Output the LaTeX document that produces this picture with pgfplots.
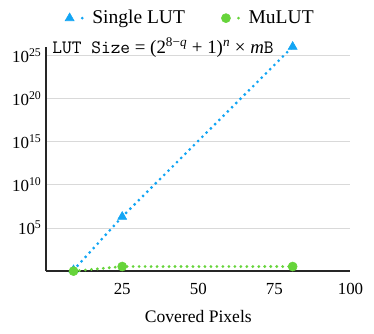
\documentclass[border={6pt 5pt 5pt 4pt}]{standalone}
\usepackage{pgfplots}
\pgfplotsset{compat=1.18}
\usepackage{fontspec}
\setmainfont{Liberation Serif}
\definecolor{lutblue}{RGB}{18,165,244}
\definecolor{mugreen}{RGB}{102,212,58}
\tikzset{dots/.style={line width=2.4pt, line cap=round, dash pattern=on 0pt off 4.6pt}}
\begin{document}
\begin{tikzpicture}
\begin{axis}[
  scale only axis,
  width=234pt, height=172.5pt,
  xmin=0, xmax=100,
  ymode=log, ymin=1, ymax=1e26,
  axis lines=left,
  axis line style={-, line width=1pt, black!85},
  xtick={25,50,75,100},
  ytick={1e5,1e10,1e15,1e20,1e25},
  yticklabels={10\textsuperscript{5},10\textsuperscript{10},10\textsuperscript{15},10\textsuperscript{20},10\textsuperscript{25}},
  minor ytick={},
  major tick length=0pt,
  tick label style={font=\fontsize{13}{14}\selectfont},
  /pgf/number format/assume math mode=true,
  xticklabel style={yshift=-6pt},
  ymajorgrids,
  grid style={gray!30, line width=0.6pt},
  xlabel={Covered Pixels},
  xlabel style={font=\fontsize{13.5}{14}\selectfont, yshift=-5pt},
  clip=false,
  legend columns=2,
  legend style={draw=none, fill=none, at={(0.475,1.1275)}, anchor=center,
    font=\fontsize{15}{16}\selectfont, /tikz/every even column/.append style={column sep=26pt},
    /tikz/every odd column/.append style={column sep=4pt}},
  legend image code/.code={
    \draw[#1, mark=none] (0.34cm,0cm) -- (0.36cm,0cm);
    \draw[#1] plot coordinates {(0cm,0cm)};},
]
\addplot[lutblue, dots, mark=triangle*, mark size=4pt, mark options={solid, line width=0.4pt}]
  coordinates {(9,1.3) (25,2e6) (81,1e26)};
\addlegendentry{Single LUT}
\addplot[mugreen, dots, mark=*, mark size=3.5pt, mark options={solid, line width=0.4pt}]
  coordinates {(9,1) (25,3.4) (81,3.4)};
\addlegendentry{MuLUT}
\node[anchor=west, inner sep=0pt, font=\fontsize{14.5}{15}\selectfont] at (rel axis cs:0.02,0.995)
  {\texttt{LUT Size} = (2\textsuperscript{8−\textit{q}} + 1)\textsuperscript{\textit{n}} × \textit{m}\texttt{B}};
\end{axis}
\end{tikzpicture}
\end{document}
